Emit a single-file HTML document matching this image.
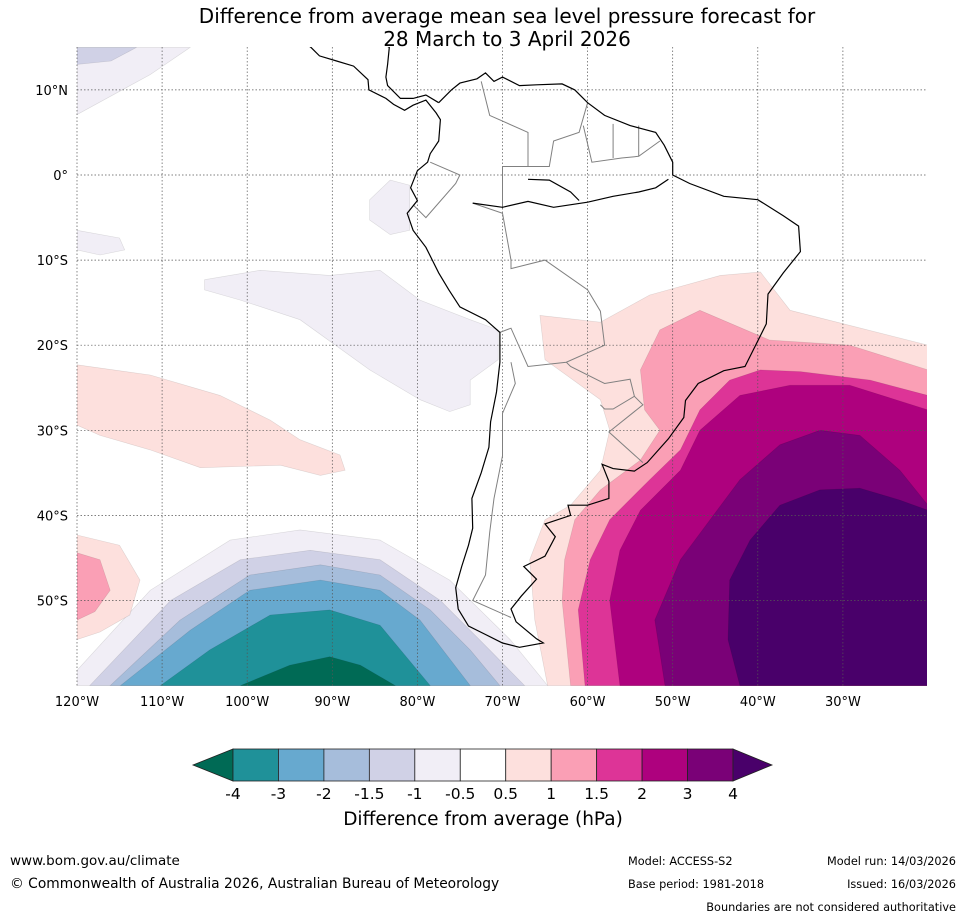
<!DOCTYPE html>
<html><head><meta charset="utf-8"><style>
body{margin:0;background:#fff;width:965px;height:919px;overflow:hidden;font-family:"DejaVu Sans","Liberation Sans",sans-serif}
svg{display:block}
</style></head><body>
<svg id="chart" width="965" height="919" viewBox="0 0 965 919" xmlns="http://www.w3.org/2000/svg">
<defs><clipPath id="mapclip"><rect x="77" y="47" width="850" height="639"/></clipPath></defs>
<text x="507" y="23" font-size="20" text-anchor="middle" fill="#000">Difference from average mean sea level pressure forecast for</text>
<text x="507" y="46" font-size="20" text-anchor="middle" fill="#000">28 March to 3 April 2026</text>
<g id="map" clip-path="url(#mapclip)"></g>
<g id="grid"></g>
<g id="land" clip-path="url(#mapclip)"></g>
<g id="ticks"></g>
<g id="cbar"></g>
<text x="483" y="825" font-size="18.5" text-anchor="middle">Difference from average (hPa)</text>
<text x="10" y="865" font-size="13.5">www.bom.gov.au/climate</text>
<text x="10" y="888" font-size="13.8">© Commonwealth of Australia 2026, Australian Bureau of Meteorology</text>
<text x="628" y="865" font-size="11.3">Model: ACCESS-S2</text>
<text x="628" y="888" font-size="11.3">Base period: 1981-2018</text>
<text x="956" y="865" font-size="11.3" text-anchor="end">Model run: 14/03/2026</text>
<text x="956" y="888" font-size="11.3" text-anchor="end">Issued: 16/03/2026</text>
<text x="956" y="911" font-size="11.3" text-anchor="end">Boundaries are not considered authoritative</text>
</svg>
<script>
const levelLabels=["-4","-3","-2","-1.5","-1","-0.5","0.5","1","1.5","2","3","4"];
const levelColors=["#006a55","#1f9199","#67a9cf","#a6bddb","#d0d1e6","#f1eef6","#ffffff","#fde0dd","#fa9fb5","#dd3497","#ae017e","#7a0177","#49006a"];
const lonTicks=[-120,-110,-100,-90,-80,-70,-60,-50,-40,-30];
const latTicks=[10,0,-10,-20,-30,-40,-50];
const cPos05=[[-65.6,-16.5],[-58.5,-17.3],[-52.7,-14.1],[-44.4,-11.8],[-39.7,-11.4],[-36.2,-15.9],[-20,-20],[-20,-60],[-64.7,-60],[-66.2,-52.3],[-66.8,-45.2],[-65,-40.5],[-62,-38.8],[-58.5,-34.7],[-57.4,-30],[-58.5,-26.4],[-65,-21.7]];
const cPos1=[[-20,-22.9],[-29.2,-20],[-38.6,-19.4],[-46.8,-15.9],[-51.5,-18.2],[-53.8,-22.9],[-53.3,-27.6],[-51.5,-30],[-53.8,-33.5],[-58.5,-37],[-61.5,-40.5],[-62.7,-45.2],[-63,-50],[-62,-60],[-20,-60]];
const cPos15=[[-20,-25.9],[-26.8,-24.1],[-35,-23.1],[-39.7,-22.9],[-43.3,-24.1],[-46.8,-27.6],[-49.1,-32.3],[-52.7,-35.8],[-57.4,-40.5],[-59.7,-45.2],[-61.1,-51.1],[-60.3,-60],[-20,-60]];
const cPos2=[[-20,-27.6],[-29.2,-24.7],[-36.2,-24.7],[-42.1,-25.9],[-46.8,-30],[-49.1,-34.7],[-53.8,-39.4],[-56.2,-44.1],[-57.4,-50],[-56.2,-60],[-20,-60]];
const cPos3=[[-20,-38.8],[-23.3,-34.7],[-28,-30.6],[-32.7,-30],[-37.4,-31.7],[-42.1,-35.8],[-45.6,-40.5],[-49.1,-45.2],[-52.1,-52.3],[-50.9,-60],[-20,-60]];
const cPos4=[[-20,-39.4],[-23.3,-38.2],[-28,-36.8],[-32.7,-37],[-37.4,-38.8],[-40.9,-42.9],[-43.3,-47.6],[-43.5,-54.6],[-42.1,-60],[-20,-60]];
const cNeg05=[[-120,-58.2],[-111.4,-48.8],[-102,-42.9],[-93.8,-41.7],[-84.4,-42.9],[-76.2,-47.6],[-69.1,-54.6],[-64.7,-60],[-120,-60]];
const cNeg1=[[-118.5,-60],[-109,-50],[-100.8,-45.2],[-92.6,-44.1],[-84.4,-45.2],[-77.3,-50],[-71.5,-55.8],[-67.4,-60]];
const cNeg15=[[-116.1,-60],[-107.9,-52.3],[-99.7,-47],[-91.4,-45.8],[-84.4,-47],[-78.5,-51.1],[-73.8,-55.8],[-70.3,-60]];
const cNeg2=[[-114.9,-60],[-106.7,-53.5],[-99.7,-48.8],[-91.4,-47.6],[-84.4,-48.8],[-79.7,-52.3],[-73.8,-60]];
const cNeg3=[[-110.2,-60],[-104.4,-55.8],[-97.3,-51.7],[-90.3,-51.1],[-84.4,-52.9],[-78.5,-60]];
const cNeg4=[[-100.8,-60],[-95,-57.6],[-90.3,-56.6],[-86.7,-57.6],[-82.6,-60]];
const cWestBand=[[-120,-22.3],[-111.4,-23.5],[-103.2,-25.9],[-97.3,-28.8],[-93.8,-31.1],[-89.1,-32.9],[-88.5,-34.7],[-91.4,-35.3],[-96.1,-34.1],[-105.5,-34.4],[-111.4,-32.3],[-117.3,-30.6],[-120,-29.4]];
const cWestBlob05=[[-120,-42.3],[-115,-43.5],[-112.6,-47.6],[-113.8,-51.7],[-117.3,-53.7],[-120,-54.6]];
const cWestBlob1=[[-120,-44.4],[-117.3,-45.2],[-116.1,-48.8],[-117.9,-51.3],[-120,-52.3]];
const cLavBig=[[-105,-12.3],[-98.5,-11.2],[-90.3,-11.8],[-84.4,-11.2],[-79.7,-14.7],[-73.8,-17],[-70.5,-18.2],[-70.5,-21.7],[-73.8,-24.1],[-73.8,-27],[-76.2,-27.8],[-79.7,-26.4],[-85.6,-22.9],[-93.8,-17],[-100.8,-14.7],[-105,-13.5]];
const cLavEcu=[[-85.6,-2.9],[-83.2,-0.6],[-80.9,-1.2],[-80.9,-6.5],[-83.2,-7],[-85.6,-5.3]];
const cLavTop=[[-120,15],[-106.7,15],[-111.4,11.8],[-120,7.1]];
const cLavTop2=[[-120,15],[-113,15],[-116,13.4],[-120,13]];
const cLavMid=[[-120,-6.5],[-115,-7.4],[-114.4,-8.8],[-117.3,-9.4],[-120,-8.8]];
const contours=[[cPos05,7],[cPos1,8],[cPos15,9],[cPos2,10],[cPos3,11],[cPos4,12],
 [cNeg05,5],[cNeg1,4],[cNeg15,3],[cNeg2,2],[cNeg3,1],[cNeg4,0],
 [cWestBand,7],[cWestBlob05,7],[cWestBlob1,8],[cLavBig,5],[cLavEcu,5],[cLavTop,5],[cLavTop2,4],[cLavMid,5]];
const coast=[[-77.5,8.5],[-76,10],[-75,10.8],[-73,11.3],[-72,12],[-71,11],[-70,11.5],[-68,10.5],[-66,10.6],[-63,10.7],[-61.5,10],[-60,8.5],[-58,7],[-55,5.8],[-52,5],[-51,3.5],[-50,1.5],[-50,0],[-48,-1],[-44,-2.5],[-40,-2.9],[-37,-4.8],[-35.2,-6],[-35,-9],[-37,-11.5],[-38.8,-14],[-39,-17.5],[-40.5,-20.5],[-41.5,-22.5],[-44,-23],[-47,-24.5],[-48.5,-26.5],[-48.7,-28.5],[-50.5,-31],[-53,-33.8],[-54.5,-34.8],[-57,-34.5],[-58.3,-34],[-57.5,-36],[-57.5,-38],[-60,-38.8],[-62.3,-38.8],[-62,-40],[-65,-41],[-63.8,-42.5],[-65,-44.8],[-67.5,-46],[-66,-47.5],[-67.8,-49.5],[-69,-51],[-68.4,-52.5],[-66,-54.5],[-65.2,-55],[-68,-55.5],[-70,-55],[-72,-54],[-74,-53],[-75.2,-51],[-75.5,-48.5],[-74.8,-46],[-74,-43.5],[-73.5,-41.5],[-73.6,-38],[-72.5,-35],[-71.6,-32],[-71.4,-29],[-70.7,-25.5],[-70.3,-22],[-70.3,-18.5],[-72,-17],[-75,-15.5],[-76.3,-13.5],[-77.5,-11.5],[-79,-8.5],[-80.5,-6.5],[-81.2,-4.5],[-80,-3],[-80.8,-1.5],[-80,0.5],[-78.8,1.5],[-78.5,2.5],[-77.5,4],[-77.3,6.5],[-77.8,7.3],[-79,8.8],[-80.5,8.2],[-81.5,7.6],[-82.8,8.3],[-83.7,9],[-85.7,10],[-85.8,11.2],[-87.5,12.8],[-89.5,13.4],[-91.5,14],[-92.5,15],[-94,16],[-96,15.7],[-96.5,16],[-96,17]];
const coastCA=[[-77.5,8.5],[-79,9.4],[-80.5,9],[-82,9],[-83.5,10.5],[-83.7,11.5],[-83.5,13],[-83.3,15],[-85,16],[-88,15.8],[-88.3,16.5],[-88.2,17.5],[-87.5,19],[-87,21.5]];
const amazon=[[-73.5,-3.3],[-70,-3.8],[-67,-3.1],[-64,-3.8],[-60,-3.2],[-57,-2.5],[-54,-2],[-52,-1.5],[-50.5,-0.5]];
const rioNegro=[[-67,-0.5],[-64.5,-0.6],[-62,-2],[-61,-3]];
const borders=[[[-73.5,-3.3],[-70,-4.5],[-69,-10],[-69,-11],[-65,-10],[-60,-13.5],[-58.5,-16],[-58,-20],[-62.5,-22],[-67,-22.5],[-69,-18],[-70.3,-18.5]],
 [[-62.5,-22],[-62,-22.5],[-58,-24.5],[-55,-24],[-54.5,-26],[-57,-27.5],[-58,-27.5],[-58.5,-27]],
 [[-54.5,-26],[-53.5,-27],[-57.5,-30.2],[-53.5,-33.8]],
 [[-69,-22],[-68.5,-24.5],[-70,-28],[-70,-33],[-71,-38],[-71.5,-42],[-72,-47],[-73.5,-50],[-69,-52]],
 [[-67,1],[-67,5],[-71.5,7],[-72.5,11]],[[-60,8.5],[-61,5],[-64,4],[-64.5,1],[-67,1],[-70,1],[-70,-4]],
 [[-78.5,1.5],[-75,0],[-75.5,-1],[-79,-5],[-80.5,-3.5]],[[-60.5,5.8],[-59.5,1.5],[-56,2],[-54,2.2],[-51.5,4]],[[-57,6],[-57,2]],[[-54,5.8],[-54,2.2]]];
const X0=77,Y0=175,S=8.51;
function xs(lon){return X0+(lon+120)*S;}
function ys(lat){return Y0-lat*S;}
const NS="http://www.w3.org/2000/svg";
function mk(tag,attrs,parent){const e=document.createElementNS(NS,tag);for(const k in attrs)e.setAttribute(k,attrs[k]);parent.appendChild(e);return e;}
function pathD(pts,close){return pts.map((p,i)=>(i?"L":"M")+xs(p[0]).toFixed(1)+","+ys(p[1]).toFixed(1)).join("")+(close?"Z":"");}
const map=document.getElementById("map");
contours.forEach((c,i)=>{
 const p=mk("path",{d:pathD(c[0],true),fill:levelColors[c[1]],stroke:"rgba(0,0,0,0.12)","stroke-width":0.6},map);
 
 
});
const grid=document.getElementById("grid"),ticks=document.getElementById("ticks");
lonTicks.forEach(l=>{
 const g=mk("line",{x1:xs(l),x2:xs(l),y1:47,y2:686,stroke:"#555","stroke-width":0.7,"stroke-dasharray":"1.5,2"},grid);
 
 
 const t=mk("text",{x:xs(l),y:706,"font-size":13,"text-anchor":"middle"},ticks);
 t.textContent=Math.abs(l)+"°W";
 
 
});
latTicks.forEach(l=>{
 const g=mk("line",{x1:77,x2:927,y1:ys(l),y2:ys(l),stroke:"#555","stroke-width":0.7,"stroke-dasharray":"1.5,2"},grid);
 
 
 const t=mk("text",{x:68,y:ys(l)+5,"font-size":13,"text-anchor":"end"},ticks);
 t.textContent=l===0?"0°":Math.abs(l)+"°"+(l>0?"N":"S");
 
 
});
const land=document.getElementById("land");
borders.forEach(b=>{
 const e=mk("path",{d:pathD(b,false),fill:"none",stroke:"#808080","stroke-width":1},land);
 
 
});
[[coast,"coastline"],[coastCA,"coastline-central-america"],[amazon,"amazon-river"],[rioNegro,"rio-negro"]].forEach(c=>{
 const e=mk("path",{d:pathD(c[0],false),fill:"none",stroke:"#000","stroke-width":1.2},land);
 
 
});
const cb=document.getElementById("cbar");
const bx0=233,bx1=733,by=749,bh=32,bw=(bx1-bx0)/11;
const tl=mk("path",{d:`M${bx0},${by}L193,${by+bh/2}L${bx0},${by+bh}Z`,fill:levelColors[0],stroke:"#222","stroke-width":0.8},cb);


for(let i=0;i<11;i++){
 const r=mk("rect",{x:bx0+i*bw,y:by,width:bw,height:bh,fill:levelColors[i+1],stroke:"#222","stroke-width":0.8},cb);
 
 
}
const tr=mk("path",{d:`M${bx1},${by}L772,${by+bh/2}L${bx1},${by+bh}Z`,fill:levelColors[12],stroke:"#222","stroke-width":0.8},cb);


levelLabels.forEach((s,i)=>{
 const t=mk("text",{x:bx0+i*bw,y:799,"font-size":15.5,"text-anchor":"middle"},cb);
 t.textContent=s;
 
 
});
</script>
</body></html>
